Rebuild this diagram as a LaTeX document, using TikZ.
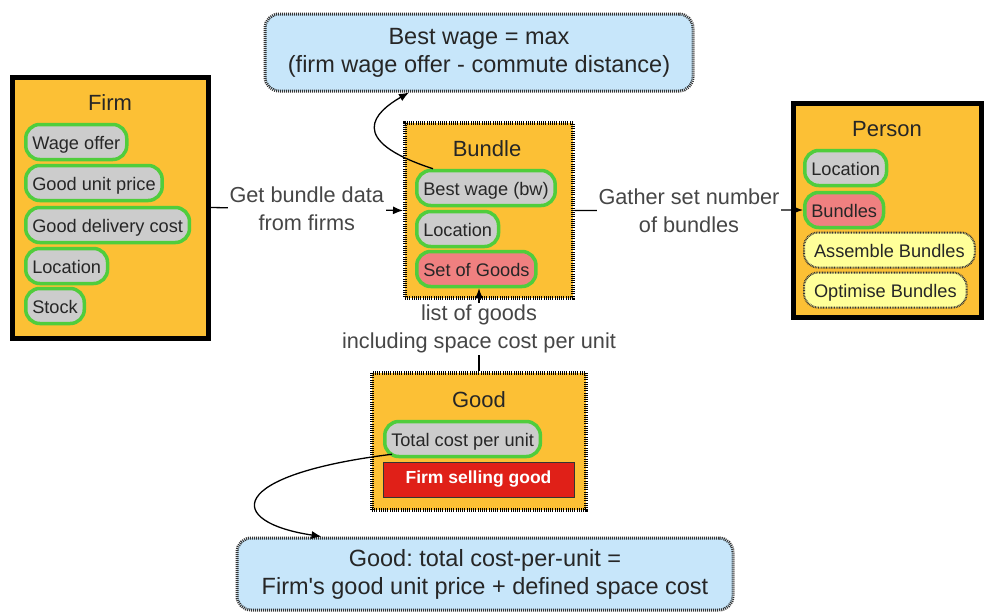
\documentclass[tikz,border=0pt]{standalone}
\usepackage{fontspec}
\setmainfont{Liberation Sans}
\newfontfamily\plainquote{Liberation Sans}
\usetikzlibrary{arrows.meta,calc}
\definecolor{orangeF}{RGB}{252,192,53}
\definecolor{grayP}{RGB}{204,204,204}
\definecolor{greenB}{RGB}{80,205,60}
\definecolor{salmonP}{RGB}{240,128,128}
\definecolor{yellowP}{RGB}{255,255,153}
\definecolor{blueB}{RGB}{199,230,250}
\definecolor{redR}{RGB}{224,32,24}
\definecolor{labgray}{RGB}{70,70,70}
\frenchspacing
\tikzset{
  bigbox/.style={draw=black, line width=5pt, fill=orangeF, inner sep=0pt},
  dotbox/.style={draw=black, line width=4pt, dash pattern=on 1pt off 1.2pt, fill=orangeF, inner sep=0pt},
  pill/.style={draw=greenB, line width=3.5pt, fill=grayP, rounded corners=14pt, minimum height=35pt, inner xsep=6.5pt, inner ysep=2pt, text height=18.5pt, text depth=4pt, anchor=west, font=\fontsize{18.2}{20}\selectfont, text=black!85},
  pillr/.style={pill, fill=salmonP},
  pilly/.style={pill, draw=black!80, line width=2pt, dash pattern=on 0.8pt off 0.8pt, fill=yellowP, inner xsep=10pt},
  note/.style={draw=black!80, line width=3pt, dash pattern=on 1pt off 1pt, fill=blueB, rounded corners=14pt, align=center, font=\fontsize{23.5}{28}\selectfont, text=black!85},
  lab/.style={fill=white, align=center, text=labgray, font=\fontsize{21.7}{28}\selectfont, inner sep=2pt},
  ttl/.style={font=\fontsize{22}{24}\selectfont, text=black!85},
  conn/.style={line width=1.3pt, -{Latex[length=10pt,width=8pt]}}
}
\begin{document}
\begin{tikzpicture}[x=1pt,y=-1pt]
\useasboundingbox (0,0) rectangle (984,613);
% notes
\node[note, minimum width=428pt, minimum height=77pt] (bestbox) at (479,52.5) {Best wage = max\\(firm wage offer - commute distance)};
\node[note, minimum width=496pt, minimum height=72pt] (costbox) at (485,574) {Good: total cost-per-unit =\\Firm{\plainquote'}s good unit price + defined space cost};
% Firm
\node[bigbox, minimum width=196pt, minimum height=261pt] (firm) at (110,207.5) {};
\node[ttl] (firmt) at (110,103) {Firm};
\node[pill] (fwage) at (24,142) {Wage offer};
\node[pill] (fprice) at (24,183) {Good unit price};
\node[pill] (fdeliv) at (24,225) {Good delivery cost};
\node[pill] (floc) at (24,266) {Location};
\node[pill] (fstock) at (24,306) {Stock};
% Bundle
\node[dotbox, minimum width=168pt, minimum height=175pt] (bundle) at (489,210.5) {};
\node[ttl] (bundlet) at (487,149) {Bundle};
\node[pill] (bw) at (415,188) {Best wage (bw)};
\node[pill] (bloc) at (415,229) {Location};
\node[pillr] (sog) at (415,269) {Set of Goods};
% Person
\node[bigbox, minimum width=188pt, minimum height=214pt] (person) at (887,210) {};
\node[ttl] (persont) at (887,129) {Person};
\node[pill] (ploc) at (803,168) {Location};
\node[pillr] (pbund) at (803,210) {Bundles};
\node[pilly] (passem) at (803,250) {Assemble Bundles};
\node[pilly] (popt) at (803,290) {Optimise Bundles};
% Good
\node[dotbox, minimum width=214pt, minimum height=137pt] (good) at (479,441) {};
\node[ttl] (goodt) at (479,400) {Good};
\node[pill] (tcpu) at (383,439) {Total cost per unit};
\node[draw=black!80, line width=1pt, fill=redR, minimum width=191pt, minimum height=35pt, text=white, font=\fontsize{17.5}{20}\selectfont\bfseries] (fsg) at (478.5,479.5) {Firm selling good};
% connectors
\draw[conn] (firm.east) -- node[lab] {Get bundle data\\from firms} (bundle.west);
\draw[conn] (bundle.east) -- node[lab] {Gather set number\\of bundles} (pbund.west);
\draw[conn] (good.north) -- node[lab] {list of goods\\including space cost per unit} (good.north |- sog.south);
\coordinate (bwstart) at ($(bw.north west)+(18,0)$);
\coordinate (bestend) at ($(bestbox.south)+(-70,0)$);
\draw[conn] (bwstart) .. controls (345,140) and (375,112) .. (bestend);
\coordinate (tcstart) at ($(tcpu.south west)+(9,-4)$);
\coordinate (costend) at ($(costbox.north west)+(86,0)$);
\draw[conn] (tcstart) .. controls (225,475) and (225,522) .. (costend);
\end{tikzpicture}
\end{document}
